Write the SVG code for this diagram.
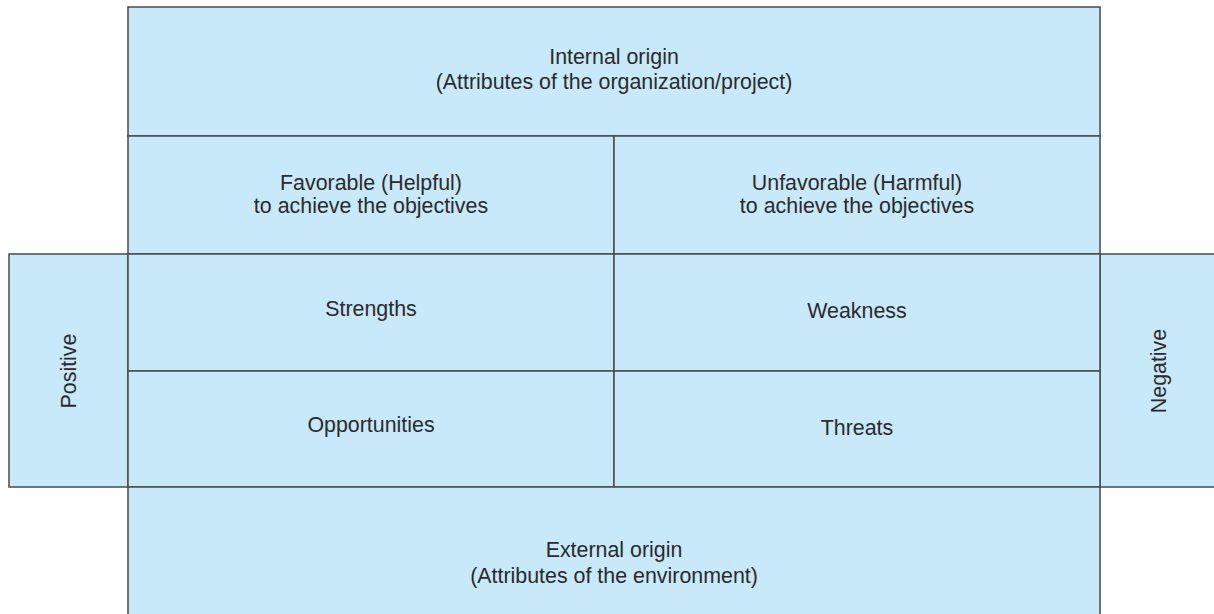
<svg xmlns="http://www.w3.org/2000/svg" width="1214" height="614" viewBox="0 0 1214 614">
<style>
.c{fill:#c7e9f9;stroke:#4a4a4a;stroke-width:1.5}
text{font-family:"Liberation Sans",Arial,sans-serif;font-size:21.4px;fill:#2b2b2b;text-anchor:middle}
</style>
<rect width="1214" height="614" fill="#fff"/>
<g id="internal"><rect class="c" x="128" y="7" width="972" height="129"/><text x="614" y="64">Internal origin</text><text x="614" y="89">(Attributes of the organization/project)</text></g>
<g id="favorable"><rect class="c" x="128" y="136" width="486" height="118"/><text x="371" y="190">Favorable (Helpful)</text><text x="371" y="213">to achieve the objectives</text></g>
<g id="unfavorable"><rect class="c" x="614" y="136" width="486" height="118"/><text x="857" y="190">Unfavorable (Harmful)</text><text x="857" y="213">to achieve the objectives</text></g>
<g id="positive"><rect class="c" x="9" y="254" width="119" height="233"/><text transform="translate(76,371) rotate(-90)">Positive</text></g>
<g id="negative"><rect class="c" x="1100" y="254" width="120" height="233"/><text transform="translate(1166,371) rotate(-90)">Negative</text></g>
<g id="strengths"><rect class="c" x="128" y="254" width="486" height="117"/><text x="371" y="316">Strengths</text></g>
<g id="weakness"><rect class="c" x="614" y="254" width="486" height="117"/><text x="857" y="318">Weakness</text></g>
<g id="opportunities"><rect class="c" x="128" y="371" width="486" height="116"/><text x="371" y="432">Opportunities</text></g>
<g id="threats"><rect class="c" x="614" y="371" width="486" height="116"/><text x="857" y="435">Threats</text></g>
<g id="external"><rect class="c" x="128" y="487" width="972" height="140"/><text x="614" y="557">External origin</text><text x="614" y="583">(Attributes of the environment)</text></g>
<g id="connectors"></g>
</svg>
